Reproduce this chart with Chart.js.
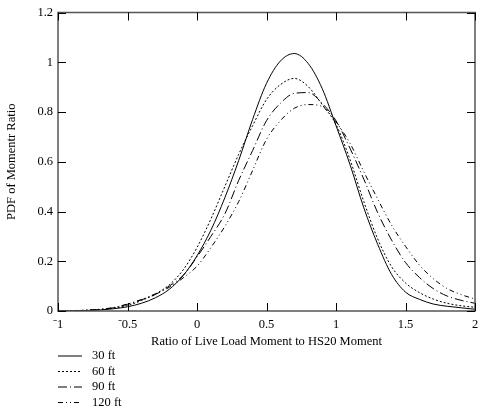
<!DOCTYPE html>
<html>
<head>
<meta charset="utf-8">
<script src="https://cdn.jsdelivr.net/npm/chart.js@4/dist/chart.umd.min.js"></script>
<style>
  html, body { margin: 0; padding: 0; background: #fff; }
  #wrap { width: 485px; height: 409px; position: relative; }
</style>
</head>
<body>
<div id="wrap"><canvas id="pdfChart"></canvas></div>
<script>
// moment ratio values (x) and PDF
const ratios = [-1.0, -0.9, -0.8, -0.7, -0.6, -0.5, -0.4, -0.3, -0.2, -0.1,
    0.0, 0.1, 0.2, 0.3, 0.4, 0.5, 0.6, 0.7, 0.8, 0.9,
    1.0, 1.1, 1.2, 1.3, 1.4, 1.5, 1.6, 1.7, 1.8, 1.9, 2.0];

const pdf30 = [0.000, 0.001, 0.002, 0.004, 0.009, 0.017, 0.031, 0.053, 0.087, 0.142,
    0.222, 0.325, 0.455, 0.605, 0.770, 0.915, 1.005, 1.035, 0.995, 0.895,
    0.745, 0.590, 0.415, 0.268, 0.147, 0.076, 0.047, 0.028, 0.019, 0.013, 0.007];
const pdf60 = [0.000, 0.001, 0.003, 0.006, 0.012, 0.022, 0.042, 0.068, 0.105, 0.165,
    0.255, 0.370, 0.500, 0.630, 0.745, 0.850, 0.910, 0.935, 0.902, 0.830,
    0.750, 0.610, 0.440, 0.290, 0.178, 0.113, 0.074, 0.048, 0.031, 0.021, 0.015];
const pdf90 = [0.000, 0.001, 0.003, 0.006, 0.013, 0.027, 0.045, 0.066, 0.100, 0.143,
    0.217, 0.300, 0.390, 0.525, 0.645, 0.765, 0.835, 0.875, 0.878, 0.835,
    0.765, 0.655, 0.530, 0.395, 0.285, 0.195, 0.135, 0.090, 0.060, 0.043, 0.031];
const pdf120 = [0.000, 0.001, 0.003, 0.007, 0.014, 0.028, 0.046, 0.069, 0.095, 0.133,
    0.180, 0.255, 0.340, 0.440, 0.565, 0.690, 0.765, 0.815, 0.830, 0.822,
    0.760, 0.675, 0.560, 0.450, 0.345, 0.260, 0.185, 0.130, 0.090, 0.066, 0.048];

const spanLabels = ['30 ft', '60 ft', '90 ft', '120 ft'];
const xTicks = [-1, -0.5, 0, 0.5, 1, 1.5, 2];
const yTicks = [0, 0.2, 0.4, 0.6, 0.8, 1, 1.2];

const FONT = '"Liberation Serif", "Times New Roman", serif';
const dashes = [[], [2, 2], [9, 3, 1, 3], [5, 3, 1, 3, 1, 3]];
const series = [pdf30, pdf60, pdf90, pdf120];

function toPoints(vals) {
    return ratios.map((x, i) => ({ x: x, y: vals[i] }));
}

// frame with inward ticks on all four sides
const framePlugin = {
    id: 'frame',
    afterDatasetsDraw(chart) {
        const { ctx, chartArea: a, scales } = chart;
        ctx.save();
        ctx.strokeStyle = '#555';
        ctx.lineWidth = 1.5;
        ctx.strokeRect(a.left, a.top, a.right - a.left, a.bottom - a.top);
        ctx.strokeStyle = '#000';
        ctx.lineWidth = 1;
        const len = 8;
        xTicks.forEach(v => {
            const px = Math.round(scales.x.getPixelForValue(v)) + 0.5;
            ctx.beginPath();
            ctx.moveTo(px, a.bottom); ctx.lineTo(px, a.bottom - len);
            ctx.moveTo(px, a.top); ctx.lineTo(px, a.top + len);
            ctx.stroke();
        });
        yTicks.forEach(v => {
            const py = Math.round(scales.y.getPixelForValue(v)) + 0.5;
            ctx.beginPath();
            ctx.moveTo(a.left, py); ctx.lineTo(a.left + len, py);
            ctx.moveTo(a.right, py); ctx.lineTo(a.right - len, py);
            ctx.stroke();
        });
        ctx.restore();
    }
};

// vertical legend under the x axis title
const legendPlugin = {
    id: 'stackLegend',
    afterDraw(chart) {
        const { ctx, chartArea: a } = chart;
        ctx.save();
        ctx.font = '12.5px ' + FONT;
        ctx.fillStyle = '#000';
        ctx.textBaseline = 'middle';
        chart.data.datasets.forEach((ds, i) => {
            const y = 356 + i * 15.5;
            ctx.strokeStyle = '#000';
            ctx.lineWidth = 1;
            ctx.setLineDash(ds.borderDash);
            ctx.beginPath();
            ctx.moveTo(a.left, y);
            ctx.lineTo(a.left + 24, y);
            ctx.stroke();
            ctx.setLineDash([]);
            ctx.fillText(ds.label, a.left + 34, y);
        });
        ctx.restore();
    }
};

const ctx = document.getElementById('pdfChart');
new Chart(ctx, {
    type: 'line',
    data: {
        datasets: series.map((vals, i) => ({
            label: spanLabels[i],
            data: toPoints(vals),
            borderColor: '#000',
            borderWidth: 1,
            borderDash: dashes[i],
            pointRadius: 0,
            fill: false,
            cubicInterpolationMode: 'monotone'
        }))
    },
    options: {
        responsive: true,
        maintainAspectRatio: false,
        animation: false,
        layout: { padding: { top: 11, right: 10, left: 0, bottom: 60 } },
        plugins: {
            legend: { display: false },
            tooltip: { enabled: false }
        },
        scales: {
            x: {
                type: 'linear',
                min: -1,
                max: 2,
                afterBuildTicks: (scale) => { scale.ticks = xTicks.map(v => ({ value: v })); },
                afterFit: (scale) => { scale.height = 38; },
                grid: { display: false, drawTicks: false },
                border: { display: false },
                ticks: {
                    color: '#000',
                    padding: 6,
                    maxRotation: 0,
                    font: { family: FONT, size: 12.5 },
                    callback: (v) => (v < 0 ? '\u207B' + Math.abs(v) : String(v))
                },
                title: {
                    display: true,
                    text: 'Ratio of Live Load Moment to HS20 Moment',
                    color: '#000',
                    padding: { top: 2, bottom: 0 },
                    font: { family: FONT, size: 12.5 }
                }
            },
            y: {
                min: 0,
                max: 1.2,
                afterBuildTicks: (scale) => { scale.ticks = yTicks.map(v => ({ value: v })); },
                afterFit: (scale) => { scale.width = 58; },
                grid: { display: false, drawTicks: false },
                border: { display: false },
                ticks: {
                    color: '#000',
                    padding: 5,
                    font: { family: FONT, size: 12.5 },
                    callback: (v) => String(Math.round(v * 10) / 10)
                },
                title: {
                    display: true,
                    text: 'PDF of Momentr Ratio',
                    color: '#000',
                    padding: { bottom: 4 },
                    font: { family: FONT, size: 12.5 }
                }
            }
        }
    },
    plugins: [framePlugin, legendPlugin]
});
</script>
</body>
</html>
